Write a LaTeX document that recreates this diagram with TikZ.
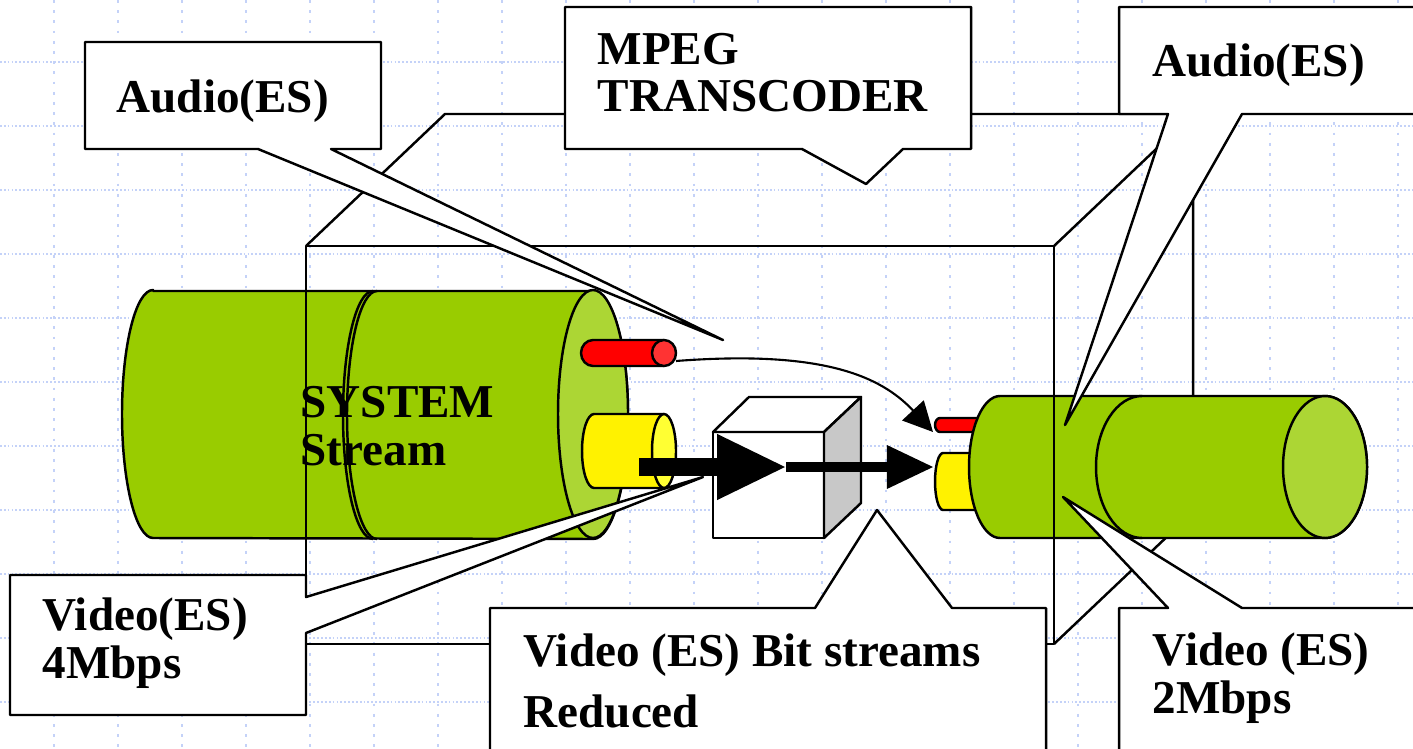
\documentclass[tikz,border=0pt]{standalone}
\usepackage{fontspec}
\setmainfont{Liberation Serif}
\usetikzlibrary{arrows.meta}

\definecolor{gridblue}{RGB}{196,210,248}
\definecolor{cylgreen}{RGB}{153,204,0}
\definecolor{facegreen}{RGB}{172,214,52}
\definecolor{redface}{RGB}{255,51,51}
\definecolor{yelface}{RGB}{255,255,51}
\definecolor{cubegray}{RGB}{200,200,200}

\tikzset{
  outline/.style={draw=black, line width=0.7pt, line join=round},
  cylbody/.style={outline, fill=cylgreen},
  callout/.style={outline, fill=white},
  gridh/.style={gridblue, line width=0.6pt, dash pattern=on 0.5pt off 0.6pt},
  gridv/.style={gridblue, line width=0.6pt, dash pattern=on 0.8pt off 2.1pt},
  lbl/.style={anchor=base west, inner sep=0pt, font=\bfseries\fontsize{13.4}{16}\selectfont}
}

\begin{document}
\begin{tikzpicture}[x=0.01cm, y=-0.01cm]
    \useasboundingbox (0,0) rectangle (1413,749);
    \clip (0,0) rectangle (1413,749);

    % background grid
    \foreach \gy in {62,126,...,702}
        \draw[gridh] (0,\gy) -- (1413,\gy);
    \foreach \gx in {54,118,...,1398}
        \draw[gridv] (\gx,0) -- (\gx,749);

    % transcoder box, back edges
    \draw[outline] (306,246) -- (445,114) -- (1193,114) -- (1054,246);
    \draw[outline] (1193,114) -- (1193,512) -- (1054,644);

    % system stream
    \path[cylbody] (153,291) -- (593,291)
        arc[start angle=-90, end angle=90, x radius=35, y radius=124]
        -- (153,538)
        arc[start angle=90, end angle=270, x radius=31, y radius=124] -- cycle;
    \draw[outline] (373,291) arc[start angle=270, end angle=90, x radius=30, y radius=124];
    \draw[outline] (377,291) arc[start angle=270, end angle=90, x radius=30, y radius=124];
    \draw[outline, fill=facegreen] (593,414) ellipse[x radius=35, y radius=124];

    % audio and video in
    \path[outline, fill=red] (593,340) -- (664,340) -- (664,366) -- (593,366)
        arc[start angle=90, end angle=270, x radius=12, y radius=13] -- cycle;
    \draw[outline, fill=redface] (664,353) ellipse[x radius=12, y radius=13];
    \path[outline, fill=yellow] (594,414) -- (664,414) -- (664,488) -- (594,488)
        arc[start angle=90, end angle=270, x radius=12, y radius=37] -- cycle;
    \draw[outline, fill=yelface] (664,451) ellipse[x radius=12, y radius=37];

    % audio and video out
    \path[outline, fill=red] (940,418) -- (990,418) -- (990,432) -- (940,432)
        arc[start angle=90, end angle=270, x radius=5, y radius=7] -- cycle;
    \path[outline, fill=yellow] (943,453) -- (990,453) -- (990,510) -- (943,510)
        arc[start angle=90, end angle=270, x radius=8, y radius=28.5] -- cycle;

    % output stream
    \path[cylbody] (1000,396) -- (1142,396) -- (1142,538) -- (1000,538)
        arc[start angle=90, end angle=270, x radius=31, y radius=71] -- cycle;
    \path[cylbody] (1142,396) -- (1325,396)
        arc[start angle=-90, end angle=90, x radius=42, y radius=71]
        -- (1142,538)
        arc[start angle=90, end angle=270, x radius=46, y radius=71] -- cycle;
    \draw[outline, fill=facegreen] (1325,467) ellipse[x radius=42, y radius=71];

    % transcoder box, front face
    \draw[outline] (306,246) rectangle (1054,644);

    % cube
    \draw[outline, fill=white] (713,432) rectangle (824,538);
    \draw[outline, fill=white] (713,432) -- (749,397) -- (861,397) -- (824,432) -- cycle;
    \draw[outline, fill=cubegray] (824,432) -- (861,397) -- (861,503) -- (824,538) -- cycle;

    % streams
    \coordinate (vidout) at (639,467);
    \coordinate (cubein) at (785,467);
    \coordinate (cubeout) at (786,467);
    \coordinate (vidin) at (933,467);
    \coordinate (audout) at (676,361);
    \coordinate (audin) at (933,432);
    \draw[line width=5.1pt, -{Triangle[length=19.3pt, width=18.8pt, line width=0pt]}] (vidout) -- (cubein);
    \draw[line width=2.6pt, -{Triangle[length=13.1pt, width=12.5pt, line width=0pt]}] (cubeout) -- (vidin);
    \draw[line width=0.6pt, -{Triangle[length=8.4pt, width=8.3pt]}] (audout) .. controls (820,350) and (880,375) .. (audin);

    % callouts
    \draw[callout] (85,42) -- (381,42) -- (381,149) -- (331,149) -- (723,340) -- (258,149) -- (85,149) -- cycle;
    \draw[callout] (565,7) -- (971,7) -- (971,149) -- (903,149) -- (866,184) -- (802,149) -- (565,149) -- cycle;
    \draw[callout] (1119,7) -- (1430,7) -- (1430,114) -- (1242,114) -- (1065,425) -- (1168,114) -- (1119,114) -- cycle;
    \draw[callout] (10,575) -- (306,575) -- (306,597) -- (703,477) -- (306,633) -- (306,715) -- (10,715) -- cycle;
    \draw[callout] (490,608) -- (815,608) -- (877,510) -- (952,608) -- (1046,608) -- (1046,760) -- (490,760) -- cycle;
    \draw[callout] (1119,608) -- (1168,608) -- (1063,497) -- (1242,608) -- (1430,608) -- (1430,760) -- (1119,760) -- cycle;

    % labels
    \node[lbl] (audioin) at (116,113) {Audio(ES)};
    \node[lbl] (mpeg) at (597,65) {MPEG};
    \node[lbl] (transcoder) at (597,112) {TRANSCODER};
    \node[lbl] (audioout) at (1152,77) {Audio(ES)};
    \node[lbl] (system) at (300,417) {SYSTEM};
    \node[lbl] (stream) at (300,465) {Stream};
    \node[lbl] (videoin) at (42,630) {Video(ES)};
    \node[lbl] (rate4) at (42,678) {4Mbps};
    \node[lbl] (reduced1) at (523,666) {Video (ES) Bit streams};
    \node[lbl] (reduced2) at (523,727) {Reduced};
    \node[lbl] (videoout) at (1152,665) {Video (ES)};
    \node[lbl] (rate2) at (1152,713) {2Mbps};
\end{tikzpicture}
\end{document}
